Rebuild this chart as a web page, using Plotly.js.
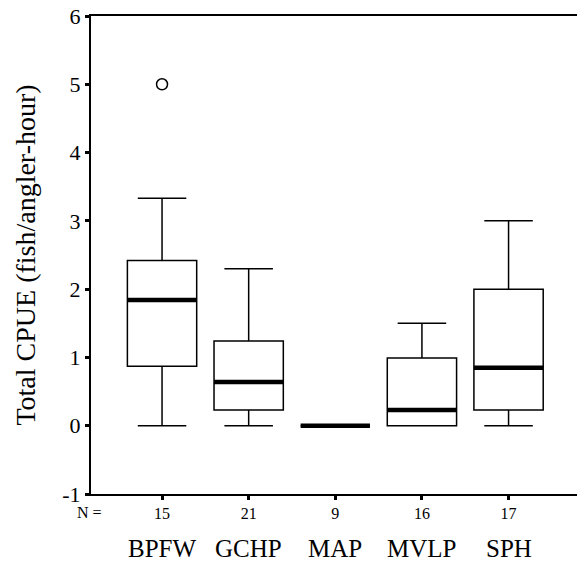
<!DOCTYPE html>
<html>
<head>
<meta charset="utf-8">
<script src="https://cdn.plot.ly/plotly-3.0.1.min.js"></script>
<style>html,body{margin:0;padding:0;background:#fff;}</style>
</head>
<body>
<div id="chart" style="width:577px;height:569px;"></div>
<script>
var categories = ["BPFW", "GCHP", "MAP", "MVLP", "SPH"];
var nValues = ["15", "21", "9", "16", "17"];
var q1 = [0.87, 0.23, 0, 0, 0.23];
var medians = [1.84, 0.64, 0, 0.23, 0.85];
var q3 = [2.42, 1.24, 0, 0.99, 2.0];
var lowerWhisker = [0, 0, 0, 0, 0];
var upperWhisker = [3.33, 2.3, 0, 1.5, 3.0];
var outlierCats = ["BPFW"];
var outlierValues = [5.0];
var yTicks = [-1, 0, 1, 2, 3, 4, 5, 6];

var FONT = "Liberation Serif, Times New Roman, serif";
var BOXW = 0.8;

var traces = [
  {
    type: "box",
    x: categories,
    q1: q1,
    median: medians,
    q3: q3,
    lowerfence: lowerWhisker,
    upperfence: upperWhisker,
    boxpoints: false,
    width: BOXW,
    whiskerwidth: 0.7,
    fillcolor: "#ffffff",
    line: {color: "#000000", width: 1.5},
    showlegend: false,
    hoverinfo: "skip"
  },
  {
    type: "scatter",
    mode: "markers",
    x: outlierCats,
    y: outlierValues,
    marker: {symbol: "circle-open", size: 11, color: "#000000", line: {width: 1.5, color: "#000000"}},
    showlegend: false,
    hoverinfo: "skip"
  }
];

var shapes = categories.map(function (c, i) {
  return {
    type: "line", xref: "x", yref: "y",
    x0: i - BOXW / 2, x1: i + BOXW / 2,
    y0: medians[i], y1: medians[i],
    line: {color: "#000000", width: 4.5}
  };
});

var annotations = categories.map(function (c) {
  return {
    xref: "x", yref: "paper", x: c, y: -0.113,
    xanchor: "center", yanchor: "middle",
    text: c, showarrow: false,
    font: {family: FONT, size: 25, color: "#000000"}
  };
});
annotations.push({
  xref: "paper", yref: "paper", x: -0.004, y: -0.038,
  xanchor: "center", yanchor: "middle",
  text: "N =", showarrow: false,
  font: {family: FONT, size: 16, color: "#000000"}
});

var layout = {
  width: 577, height: 569,
  margin: {l: 91, r: 0, t: 16, b: 75},
  paper_bgcolor: "#ffffff",
  plot_bgcolor: "#ffffff",
  font: {family: FONT, color: "#000000"},
  showlegend: false,
  xaxis: {
    type: "category",
    categoryorder: "array",
    categoryarray: categories,
    range: [-0.82, 4.79],
    tickvals: categories,
    ticktext: nValues,
    ticks: "outside", ticklen: 4, tickwidth: 3, tickcolor: "#000000",
    tickfont: {family: FONT, size: 16, color: "#000000"},
    showline: true, linecolor: "#000000", linewidth: 2, mirror: true,
    showgrid: false, zeroline: false
  },
  yaxis: {
    range: [-1, 6],
    tickvals: yTicks,
    ticktext: yTicks.map(String),
    ticks: "outside", ticklen: 4, tickwidth: 3, tickcolor: "#000000",
    tickfont: {family: FONT, size: 22, color: "#000000"},
    showline: true, linecolor: "#000000", linewidth: 2,
    showgrid: false, zeroline: false,
    title: {text: "Total CPUE (fish/angler-hour)", font: {family: FONT, size: 28, color: "#000000"}, standoff: 18}
  },
  shapes: shapes,
  annotations: annotations
};

Plotly.newPlot("chart", traces, layout, {displayModeBar: false, staticPlot: true});
</script>
</body>
</html>
